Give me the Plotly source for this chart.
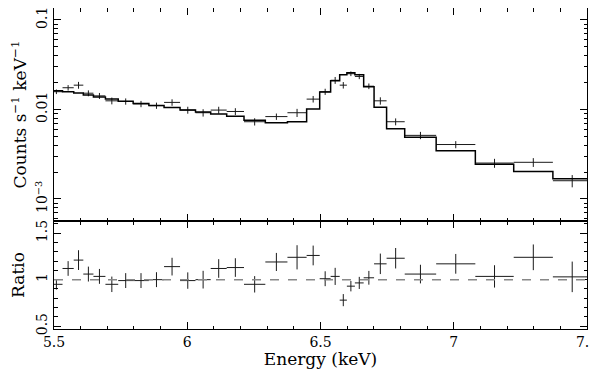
import plotly.graph_objects as go

# energy bin edges (keV), one more than the number of bins
ENERGY_EDGES = [5.486, 5.532, 5.574, 5.610, 5.648, 5.693, 5.741, 5.797, 5.856, 5.913,
                5.973, 6.031, 6.088, 6.148, 6.213, 6.293, 6.376, 6.448, 6.497, 6.538,
                6.572, 6.599, 6.629, 6.662, 6.701, 6.748, 6.816, 6.934, 7.081, 7.225,
                7.372, 7.517]

# data (counts s^-1 keV^-1)
COUNTS = [0.0158, 0.0175, 0.0187, 0.0152, 0.0142, 0.0125, 0.0123, 0.01154, 0.01105, 0.0120,
          0.00985, 0.0092, 0.00985, 0.0095, 0.0073, 0.00833, 0.0092, 0.01306, 0.0158, 0.0212,
          0.0187, 0.0251, 0.0234, 0.0182, 0.0125, 0.0073, 0.00514, 0.00406, 0.00252, 0.00257,
          0.0016]
COUNTS_ERR = [0.00093, 0.00123, 0.00164, 0.00115, 0.0011, 0.00109, 0.00099, 0.00093, 0.00088, 0.0010,
              0.00088, 0.00087, 0.00088, 0.00084, 0.00068, 0.00068, 0.00096, 0.0011, 0.00125, 0.00188,
              0.00156, 0.00151, 0.00158, 0.00132, 0.00118, 0.00065, 0.00048, 0.00037, 0.00029, 0.00029,
              0.00025]

# folded model, one value per bin
MODEL = [0.0162, 0.0158, 0.0153, 0.0145, 0.0138, 0.0131, 0.0124, 0.0117, 0.0111, 0.0105,
         0.0099, 0.0094, 0.0089, 0.0084, 0.0076, 0.0071, 0.0073, 0.0101, 0.0157, 0.0210,
         0.0245, 0.0258, 0.0244, 0.0180, 0.0106, 0.0061, 0.0049, 0.00346, 0.00245, 0.00203,
         0.00168]

# data / model
RATIO = [0.95, 1.12, 1.21, 1.06, 1.035, 0.95, 0.99, 0.99, 1.0, 1.14,
         0.99, 1.0, 1.12, 1.13, 0.95, 1.19, 1.24, 1.26, 1.01, 1.035,
         0.78, 0.93, 0.965, 1.02, 1.17, 1.23, 1.06, 1.17, 1.035, 1.24,
         1.03]
RATIO_ERR = [0.056, 0.079, 0.106, 0.08, 0.08, 0.083, 0.08, 0.08, 0.08, 0.095,
             0.088, 0.095, 0.10, 0.10, 0.088, 0.097, 0.13, 0.106, 0.08, 0.092,
             0.065, 0.056, 0.065, 0.074, 0.11, 0.11, 0.10, 0.106, 0.12, 0.138,
             0.164]

centers = [(a + b) / 2 for a, b in zip(ENERGY_EDGES[:-1], ENERGY_EDGES[1:])]
half_width = [(b - a) / 2 for a, b in zip(ENERGY_EDGES[:-1], ENERGY_EDGES[1:])]

INK = "#1a1a1a"
FONT = dict(family="DejaVu Serif", size=14, color="black")
# the page body adds an 8px offset, so the figure is 8px smaller and shifted
PLOT_H = 321
SPLIT = 108 / PLOT_H

fig = go.Figure()

# top panel: data crosses + step model
fig.add_trace(go.Scatter(
    x=centers, y=COUNTS, mode="markers",
    marker=dict(size=1, color="rgba(0,0,0,0)"),
    error_x=dict(type="data", array=half_width, width=0, thickness=1, color=INK),
    error_y=dict(type="data", array=COUNTS_ERR, width=0, thickness=1, color=INK),
    xaxis="x", yaxis="y", showlegend=False,
))
fig.add_trace(go.Scatter(
    x=ENERGY_EDGES, y=MODEL + [MODEL[-1]], mode="lines",
    line=dict(shape="hv", color="black", width=1.5),
    xaxis="x", yaxis="y", showlegend=False,
))

# bottom panel: ratio
fig.add_trace(go.Scatter(
    x=centers, y=RATIO, mode="markers",
    marker=dict(size=1, color="rgba(0,0,0,0)"),
    error_x=dict(type="data", array=half_width, width=0, thickness=1, color=INK),
    error_y=dict(type="data", array=RATIO_ERR, width=0, thickness=1, color=INK),
    xaxis="x2", yaxis="y2", showlegend=False,
))
fig.add_shape(type="line", xref="x2 domain", x0=0, x1=1, yref="y2", y0=1, y1=1,
              line=dict(color="#888888", width=1.5, dash="dash"))

axis_common = dict(
    showline=True, linecolor="black", linewidth=1, mirror="allticks",
    ticks="inside", tickcolor="black", showgrid=False, zeroline=False,
    automargin=False, ticklabeloverflow="allow",
)

log_minor = [k * 10.0 ** e for e in (-4, -3, -2, -1) for k in range(2, 10)]

fig.update_layout(
    width=590, height=361,
    margin=dict(l=46, r=10.5, t=0, b=40),
    paper_bgcolor="white", plot_bgcolor="white",
    font=FONT,
    xaxis=dict(
        axis_common, domain=[0, 1], anchor="y", range=[5.5, 7.5],
        tick0=5.5, dtick=0.5, ticklen=7, showticklabels=False,
        minor=dict(ticks="inside", dtick=0.1, ticklen=3.5, tickcolor="black"),
    ),
    yaxis=dict(
        axis_common, domain=[SPLIT, 1], anchor="x", type="log",
        range=[-3.246, -0.866],
        tickvals=[0.001, 0.01, 0.1], ticktext=["10<sup>−3</sup>", "0.01", "0.1"],
        tickangle=-90, ticklen=7,
        minor=dict(ticks="inside", tickvals=log_minor, ticklen=3.5, tickcolor="black"),
        title=dict(text="Counts s<sup>−1</sup> keV<sup>−1</sup>", standoff=24),
    ),
    xaxis2=dict(
        axis_common, domain=[0, 1], anchor="y2", range=[5.5, 7.5], matches="x",
        tick0=5.5, dtick=0.5, ticklen=7,
        minor=dict(ticks="inside", dtick=0.1, ticklen=3.5, tickcolor="black"),
        title=dict(text="Energy (keV)", standoff=0),
    ),
    yaxis2=dict(
        axis_common, domain=[0, SPLIT], anchor="x2", range=[0.47, 1.63],
        tickvals=[0.5, 1, 1.5], ticktext=["0.5", "1", "1.5"],
        tickangle=-90, ticklen=7,
        minor=dict(ticks="inside", dtick=0.1, ticklen=3.5, tickcolor="black"),
        title=dict(text="Ratio", standoff=24),
    ),
)

fig.write_html("out.html")
